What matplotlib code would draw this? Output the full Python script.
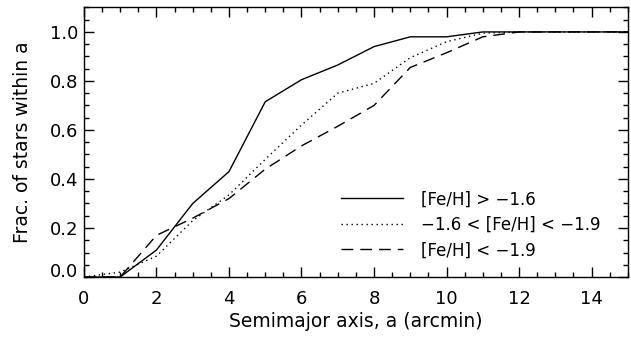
import numpy as np
import matplotlib
matplotlib.use("Agg")
import matplotlib.pyplot as plt
from matplotlib.ticker import MultipleLocator
from matplotlib.transforms import ScaledTranslation

# cumulative fraction of stars inside semimajor axis a, per metallicity bin
semimajor = [0, 1, 2, 3, 4, 5, 6, 7, 8, 9, 10, 11, 12, 13, 14, 15]
frac_metal_rich = [0.0, 0.0, 0.11, 0.30, 0.43, 0.715, 0.805, 0.865, 0.94, 0.98, 0.98, 1.0, 1.0, 1.0, 1.0, 1.0]
frac_intermediate = [0.0, 0.02, 0.085, 0.23, 0.335, 0.48, 0.62, 0.75, 0.79, 0.895, 0.96, 0.995, 1.0, 1.0, 1.0, 1.0]
frac_metal_poor = [0.0, 0.0, 0.17, 0.24, 0.32, 0.44, 0.535, 0.615, 0.70, 0.855, 0.915, 0.98, 1.0, 1.0, 1.0, 1.0]

labels = ["[Fe/H] > \u22121.6", "\u22121.6 < [Fe/H] < \u22121.9", "[Fe/H] < \u22121.9"]

plt.rcParams['font.family'] = ['DejaVu Sans']
plt.rcParams['font.size'] = 13

fig = plt.figure(figsize=(6.31, 3.37), dpi=100)
ax = fig.add_axes([0.133, 0.178, 0.862, 0.800])

ax.plot(semimajor, frac_metal_rich, color='black', lw=1.0, ls='-', label=labels[0])
ax.plot(semimajor, frac_intermediate, color='black', lw=1.0, ls=(0, (1, 2.6)), label=labels[1])
ax.plot(semimajor, frac_metal_poor, color='black', lw=1.0, ls=(0, (8.5, 5)), label=labels[2])

ax.set_xlim(0, 15)
ax.set_ylim(0, 1.1)
ax.xaxis.set_major_locator(MultipleLocator(2))
ax.xaxis.set_minor_locator(MultipleLocator(0.5))
ax.set_yticks([0.0, 0.2, 0.4, 0.6, 0.8, 1.0], ["0.0", "0.2", "0.4", "0.6", "0.8", "1.0"])
ax.yaxis.set_minor_locator(MultipleLocator(0.05))
ax.tick_params(which='both', direction='in', top=True, right=True, width=1.0)
ax.tick_params(which='major', length=7)
ax.tick_params(which='minor', length=3.5)
ax.tick_params(axis='x', pad=9)
ax.tick_params(axis='y', pad=4)
for s in ax.spines.values():
    s.set_linewidth(1.0)

# IDL puts the bottom y label a bit above the x-axis
lab0 = ax.get_yticklabels()[0]
lab0.set_transform(lab0.get_transform() + ScaledTranslation(0, 5 / 72, fig.dpi_scale_trans))

ax.set_xlabel("Semimajor axis, a (arcmin)", labelpad=3, fontsize=13.5)
ax.set_ylabel("Frac. of stars within a", labelpad=13, fontsize=13.5)

ax.legend(loc='lower right', bbox_to_anchor=(0.978, 0.01), frameon=False,
          handlelength=3.7, handletextpad=1.1, labelspacing=0.45, fontsize=12)

fig.savefig("out.png", dpi=100)
